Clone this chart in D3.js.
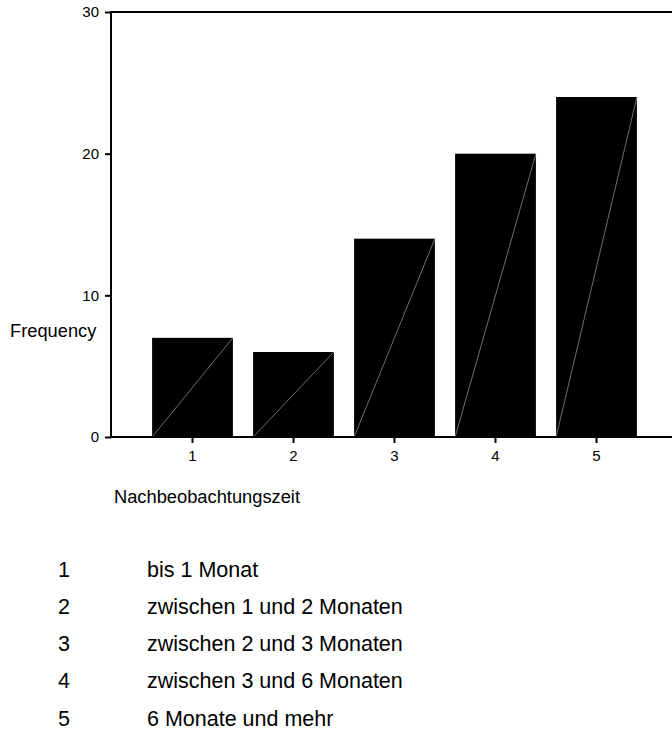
<!DOCTYPE html>
<html>
<head>
<meta charset="utf-8">
<script src="https://cdn.jsdelivr.net/npm/d3@7"></script>
<style>
  html, body { margin: 0; padding: 0; background: #fff; }
  svg { display: block; }
  text { font-family: "Liberation Sans", Arial, sans-serif; fill: #000; }
</style>
</head>
<body>
<svg id="chart" width="672" height="737"></svg>
<script>
const categories = ["1", "2", "3", "4", "5"];
const frequencies = [7, 6, 14, 20, 24];
const yTicks = [0, 10, 20, 30];
const legendLabels = [
  "bis 1 Monat",
  "zwischen 1 und 2 Monaten",
  "zwischen 2 und 3 Monaten",
  "zwischen 3 und 6 Monaten",
  "6 Monate und mehr"
];
const yTitle = "Frequency";
const xTitle = "Nachbeobachtungszeit";

const svg = d3.select("#chart");
const plotLeft = 111, plotRight = 672, plotTop = 12, plotBottom = 437;

const x = d3.scaleBand().domain(categories).range([142, 647]).paddingInner(0.2).paddingOuter(0.1);
const y = d3.scaleLinear().domain([0, 30]).range([plotBottom, plotTop]);

// bars
const data = categories.map((c, i) => ({ c, v: frequencies[i] }));
const g = svg.append("g");
g.selectAll("rect.bar").data(data).join("rect")
  .attr("class", "bar")
  .attr("x", d => x(d.c))
  .attr("y", d => y(d.v))
  .attr("width", x.bandwidth())
  .attr("height", d => y(0) - y(d.v))
  .attr("fill", "#000");
g.selectAll("line.diag").data(data).join("line")
  .attr("class", "diag")
  .attr("x1", d => x(d.c))
  .attr("y1", d => y(0))
  .attr("x2", d => x(d.c) + x.bandwidth())
  .attr("y2", d => y(d.v))
  .attr("stroke", "#8a8a8a")
  .attr("stroke-width", 0.8);

// y axis
const yAxis = svg.append("g").attr("transform", `translate(${plotLeft},0)`)
  .call(d3.axisLeft(y).tickValues(yTicks).tickSize(6).tickPadding(6).tickFormat(d3.format("d")));
yAxis.select(".domain").remove();
yAxis.selectAll(".tick line").attr("stroke", "#000").attr("stroke-width", 2);
yAxis.selectAll(".tick text").style("font-size", "15px").attr("font-family", null);

// x axis
const xAxis = svg.append("g").attr("transform", `translate(0,${plotBottom})`)
  .call(d3.axisBottom(x).tickSize(6).tickPadding(7));
xAxis.select(".domain").remove();
xAxis.selectAll(".tick line").attr("stroke", "#000").attr("stroke-width", 2);
xAxis.selectAll(".tick text").style("font-size", "15px").attr("font-family", null);

// frame lines
svg.append("line").attr("x1", plotLeft).attr("x2", plotRight).attr("y1", plotTop).attr("y2", plotTop)
  .attr("stroke", "#000").attr("stroke-width", 2);
svg.append("line").attr("x1", plotLeft).attr("x2", plotRight).attr("y1", plotBottom).attr("y2", plotBottom)
  .attr("stroke", "#000").attr("stroke-width", 2);
svg.append("line").attr("x1", plotLeft).attr("x2", plotLeft).attr("y1", plotTop - 1).attr("y2", plotBottom + 1)
  .attr("stroke", "#000").attr("stroke-width", 2);

// titles
svg.append("text").attr("x", 10).attr("y", 331).attr("dy", "0.35em")
  .style("font-size", "18.3px").text(yTitle);
svg.append("text").attr("x", 114).attr("y", 497).attr("dy", "0.35em")
  .style("font-size", "18.3px").text(xTitle);

// legend
const leg = svg.append("g");
legendLabels.forEach((lab, i) => {
  const yy = 569 + i * 37.3;
  leg.append("text").attr("x", 58).attr("y", yy).attr("dy", "0.35em")
    .style("font-size", "21.5px").text(categories[i]);
  leg.append("text").attr("x", 147).attr("y", yy).attr("dy", "0.35em")
    .style("font-size", "21.5px").text(lab);
});
</script>
</body>
</html>
